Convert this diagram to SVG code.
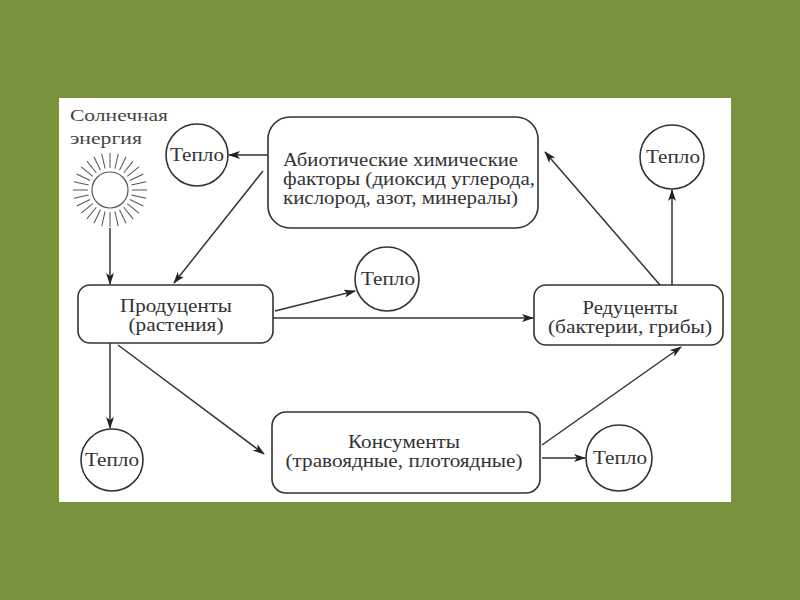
<svg xmlns="http://www.w3.org/2000/svg" width="800" height="600" viewBox="0 0 800 600">
<defs>
<marker id="ah" viewBox="0 0 12 8" refX="11" refY="4" markerWidth="12" markerHeight="8" markerUnits="userSpaceOnUse" orient="auto">
<path d="M0,0 L12,4 L0,8 L3,4 Z" fill="#222"/>
</marker>
<style>
.box{fill:#fff;stroke:#333;stroke-width:1.6}
.heat{fill:#fff;stroke:#333;stroke-width:1.6}
text{font-family:'Liberation Serif','Times New Roman','DejaVu Serif',serif;fill:#333}
.t{font-size:19px;text-anchor:middle}
.l{font-size:19px}
.h{font-size:18px;text-anchor:middle}
.s{font-size:17.5px;fill:#444}
.c{stroke:#333;stroke-width:1.5;fill:none;marker-end:url(#ah)}
.ray{stroke:#555;stroke-width:1}
</style>
</defs>
<rect width="800" height="600" fill="#77933c"/>
<rect x="59" y="98" width="672" height="404" fill="#fff"/>

<g id="sun">
<text class="s" x="70" y="121" textLength="98" lengthAdjust="spacingAndGlyphs">Солнечная</text>
<text class="s" x="70" y="144" textLength="72" lengthAdjust="spacingAndGlyphs">энергия</text>
<circle cx="110" cy="190" r="18" fill="#fff" stroke="#555" stroke-width="1.2"/>
<g transform="translate(110,190)">
<g id="rays">
<line class="ray" x1="22" y1="0" x2="37" y2="0"/>
<line class="ray" x1="22" y1="0" x2="37" y2="0" transform="rotate(12.86)"/>
<line class="ray" x1="22" y1="0" x2="37" y2="0" transform="rotate(25.71)"/>
<line class="ray" x1="22" y1="0" x2="37" y2="0" transform="rotate(38.57)"/>
<line class="ray" x1="22" y1="0" x2="37" y2="0" transform="rotate(51.43)"/>
<line class="ray" x1="22" y1="0" x2="37" y2="0" transform="rotate(64.29)"/>
<line class="ray" x1="22" y1="0" x2="37" y2="0" transform="rotate(77.14)"/>
</g>
<use href="#rays" transform="rotate(90)"/>
<use href="#rays" transform="rotate(180)"/>
<use href="#rays" transform="rotate(270)"/>
</g>
</g>

<g id="abiotic">
<rect class="box" x="268" y="117" width="270" height="111" rx="22"/>
<text class="l" x="283" y="166" textLength="235" lengthAdjust="spacingAndGlyphs">Абиотические химические</text>
<text class="l" x="283" y="185" textLength="252" lengthAdjust="spacingAndGlyphs">факторы (диоксид углерода,</text>
<text class="l" x="283" y="204" textLength="235" lengthAdjust="spacingAndGlyphs">кислород, азот, минералы)</text>
</g>

<g id="producers">
<rect class="box" x="78" y="285" width="195" height="58" rx="12"/>
<text class="t" x="176" y="312" textLength="112" lengthAdjust="spacingAndGlyphs">Продуценты</text>
<text class="t" x="176" y="331" textLength="95" lengthAdjust="spacingAndGlyphs">(растения)</text>
</g>

<g id="reducers">
<rect class="box" x="534" y="285" width="189" height="60" rx="12"/>
<text class="t" x="630" y="314" textLength="95" lengthAdjust="spacingAndGlyphs">Редуценты</text>
<text class="t" x="630" y="333" textLength="164" lengthAdjust="spacingAndGlyphs">(бактерии, грибы)</text>
</g>

<g id="consumers">
<rect class="box" x="272" y="412" width="268" height="81" rx="14"/>
<text class="t" x="404" y="448" textLength="112" lengthAdjust="spacingAndGlyphs">Консументы</text>
<text class="t" x="404" y="467" textLength="237" lengthAdjust="spacingAndGlyphs">(травоядные, плотоядные)</text>
</g>

<g id="heat1"><circle class="heat" cx="197" cy="155" r="31"/><text class="h" x="197" y="161" textLength="54" lengthAdjust="spacingAndGlyphs">Тепло</text></g>
<g id="heat2"><circle class="heat" cx="387" cy="279" r="32"/><text class="h" x="388" y="285" textLength="54" lengthAdjust="spacingAndGlyphs">Тепло</text></g>
<g id="heat3"><circle class="heat" cx="672" cy="157" r="32"/><text class="h" x="673" y="163" textLength="54" lengthAdjust="spacingAndGlyphs">Тепло</text></g>
<g id="heat4"><circle class="heat" cx="112" cy="460" r="31"/><text class="h" x="112" y="466" textLength="54" lengthAdjust="spacingAndGlyphs">Тепло</text></g>
<g id="heat5"><circle class="heat" cx="619" cy="458" r="33"/><text class="h" x="620" y="464" textLength="54" lengthAdjust="spacingAndGlyphs">Тепло</text></g>

<g id="connectors">
<line class="c" x1="110" y1="228" x2="110" y2="284"/>
<line class="c" x1="268" y1="155" x2="229" y2="155"/>
<line class="c" x1="263" y1="171" x2="174" y2="283"/>
<line class="c" x1="275" y1="311" x2="355" y2="291"/>
<line class="c" x1="273" y1="318" x2="533" y2="318"/>
<line class="c" x1="110" y1="343" x2="110" y2="428"/>
<line class="c" x1="118" y1="345" x2="264" y2="454"/>
<line class="c" x1="542" y1="458" x2="585" y2="458"/>
<line class="c" x1="542" y1="445" x2="681" y2="347"/>
<line class="c" x1="672" y1="285" x2="672" y2="190"/>
<line class="c" x1="660" y1="285" x2="545" y2="152"/>
</g>
</svg>
